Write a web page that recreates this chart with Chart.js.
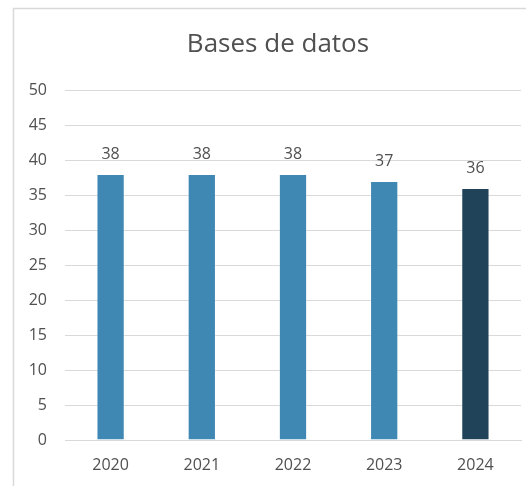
<!DOCTYPE html>
<html><head><meta charset="utf-8">
<script src="https://cdn.jsdelivr.net/npm/chart.js@4"></script>
<style>html,body{margin:0;padding:0;background:#fff;}#wrap{width:526px;height:486px;position:relative;}</style>
</head><body><div id="wrap"><canvas id="c" width="526" height="486"></canvas></div>
<script>
const titleText = "Bases de datos";
const categories = ["2020","2021","2022","2023","2024"];
const values = [38,38,38,37,36];
const barColors = ["#3F88B4","#3F88B4","#3F88B4","#3F88B4","#21435A"];
const yTicks = [0,5,10,15,20,25,30,35,40,45,50];
const textColor = "#505050";
const fontFam = "'Open Sans', 'Noto Sans', sans-serif";

const decor = {
  id:'decor',
  beforeDraw(chart){
    const ctx = chart.ctx;
    ctx.save();
    ctx.fillStyle='#fff'; ctx.fillRect(0,0,chart.width,chart.height);
    ctx.strokeStyle='#D9D9D9'; ctx.lineWidth=1.5;
    ctx.beginPath(); ctx.moveTo(13.5,486); ctx.lineTo(13.5,8.5); ctx.lineTo(526,8.5); ctx.stroke();
    ctx.fillStyle=textColor; ctx.font="26px "+fontFam; ctx.textAlign='center'; ctx.textBaseline='middle';
    ctx.fillText(titleText, 278, 45);
    ctx.restore();
  },
  afterDatasetsDraw(chart){
    const ctx = chart.ctx; const meta = chart.getDatasetMeta(0);
    ctx.save(); ctx.fillStyle=textColor; ctx.font="16px "+fontFam; ctx.textAlign='center'; ctx.textBaseline='middle';
    meta.data.forEach((bar,i)=>{ ctx.fillText(String(values[i]), bar.x, bar.y-20); });
    ctx.restore();
  }
};

new Chart(document.getElementById('c'), {
  type:'bar',
  data:{labels:categories, datasets:[{data:values, backgroundColor:barColors, borderColor:'rgba(255,255,255,0.35)', borderWidth:1, categoryPercentage:1, barPercentage:0.31}]},
  options:{
    responsive:false, animation:false, devicePixelRatio:1,
    layout:{padding:{top:90, right:5, left:0, bottom:0}},
    plugins:{legend:{display:false}, tooltip:{enabled:false}, title:{display:false}},
    scales:{
      y:{min:0,max:50,
        afterBuildTicks(s){ s.ticks = yTicks.map(v=>({value:v})); },
        afterFit(s){ s.width = 65; },
        border:{display:false},
        grid:{color:'#D9D9D9', lineWidth:1, drawTicks:false},
        ticks:{color:textColor, font:{size:16, family:fontFam}, padding:18}
      },
      x:{
        afterFit(s){ s.height = 46; },
        border:{display:true, color:'#D9D9D9'},
        grid:{display:false, drawTicks:false},
        ticks:{color:textColor, font:{size:16, family:fontFam}, padding:16}
      }
    }
  },
  plugins:[decor]
});
</script></body></html>
